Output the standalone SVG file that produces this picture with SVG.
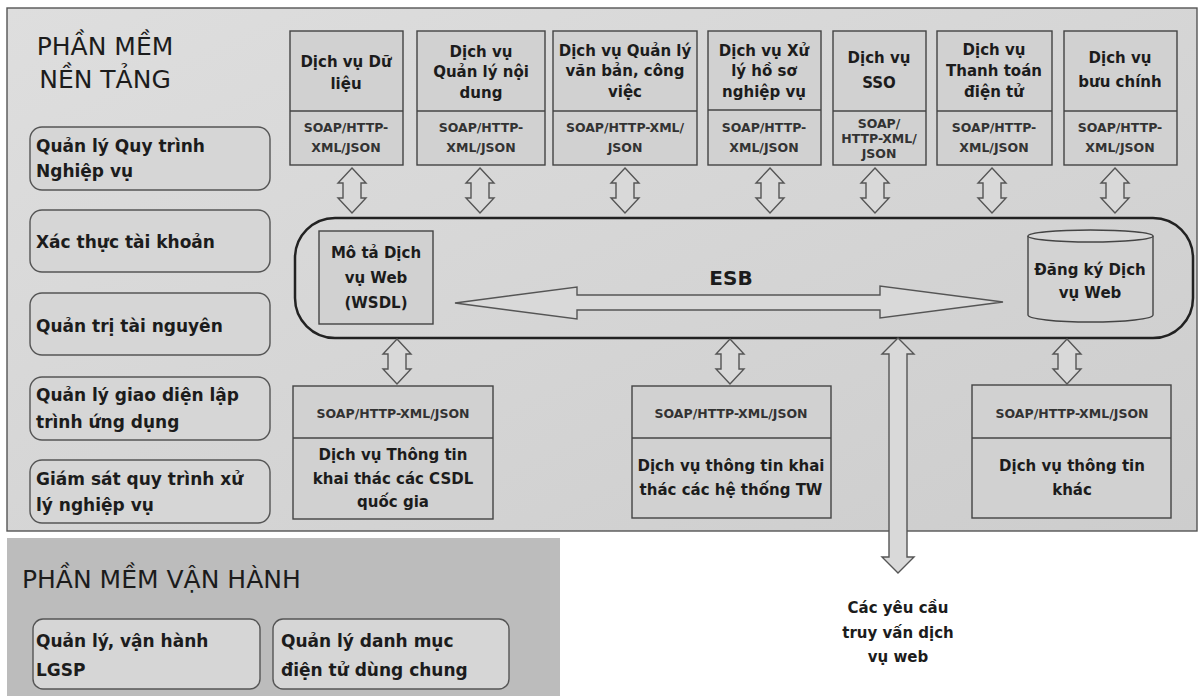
<svg xmlns="http://www.w3.org/2000/svg" width="1204" height="696" viewBox="0 0 1204 696">
<defs>
<linearGradient id="panelGrad" x1="0" y1="0" x2="1" y2="1">
<stop offset="0" stop-color="#dedede"/>
<stop offset="1" stop-color="#cdcdcd"/>
</linearGradient>
<style>
.t{font-family:"DejaVu Sans","Liberation Sans",sans-serif;fill:#1c1c1c}
.title{font-size:25px;font-weight:normal}
.lbl{font-size:17px;font-weight:bold}
.svc{font-size:15px;font-weight:bold;text-anchor:middle}
.proto{font-size:12.5px;font-weight:bold;text-anchor:middle;fill:#333}
.body{font-size:15px;font-weight:bold;text-anchor:middle}
.rbox{fill:#d6d6d6;stroke:#555;stroke-width:1.4}
.box{fill:#d1d1d1;stroke:#444;stroke-width:1.4}
.div{stroke:#444;stroke-width:1.4}
.arrow{fill:#d9d9d9;stroke:#555;stroke-width:1.4;stroke-linejoin:miter}
</style>
</defs>
<rect width="1204" height="696" fill="#ffffff"/>

<g id="panel-nen-tang">
<rect x="7" y="8" width="1190" height="523" fill="url(#panelGrad)" stroke="#555" stroke-width="1.4"/>
<text class="t title" x="105" y="55" text-anchor="middle">PHẦN MỀM</text>
<text class="t title" x="105" y="88" text-anchor="middle">NỀN TẢNG</text>
</g>

<g id="panel-van-hanh">
<rect x="7" y="538" width="553" height="158" fill="#bcbcbc"/>
<text class="t title" x="22" y="588">PHẦN MỀM VẬN HÀNH</text>
</g>

<g id="left-qlqt">
<rect class="rbox" x="30" y="127" width="240" height="63" rx="12"/>
<text class="t lbl" x="36" y="152">Quản lý Quy trình</text>
<text class="t lbl" x="36" y="177">Nghiệp vụ</text>
</g>
<g id="left-xttk">
<rect class="rbox" x="30" y="210" width="240" height="62" rx="12"/>
<text class="t lbl" x="36" y="248">Xác thực tài khoản</text>
</g>
<g id="left-qttn">
<rect class="rbox" x="30" y="293" width="240" height="62" rx="12"/>
<text class="t lbl" x="36" y="332">Quản trị tài nguyên</text>
</g>
<g id="left-qlgd">
<rect class="rbox" x="30" y="377" width="240" height="63" rx="12"/>
<text class="t lbl" x="36" y="401">Quản lý giao diện lập</text>
<text class="t lbl" x="36" y="428">trình ứng dụng</text>
</g>
<g id="left-gsqt">
<rect class="rbox" x="30" y="460" width="240" height="63" rx="12"/>
<text class="t lbl" x="36" y="485">Giám sát quy trình xử</text>
<text class="t lbl" x="36" y="511">lý nghiệp vụ</text>
</g>

<g id="svc-du-lieu">
<rect class="box" x="290" y="31" width="113" height="134"/>
<line class="div" x1="290" y1="111" x2="403" y2="111"/>
<text class="t svc" x="346" y="67">Dịch vụ Dữ</text>
<text class="t svc" x="346" y="89">liệu</text>
<text class="t proto" x="346" y="132">SOAP/HTTP-</text>
<text class="t proto" x="346" y="152">XML/JSON</text>
</g>
<g id="svc-noi-dung">
<rect class="box" x="417" y="31" width="128" height="134"/>
<line class="div" x1="417" y1="111" x2="545" y2="111"/>
<text class="t svc" x="481" y="57">Dịch vụ</text>
<text class="t svc" x="481" y="77">Quản lý nội</text>
<text class="t svc" x="481" y="98">dung</text>
<text class="t proto" x="481" y="132">SOAP/HTTP-</text>
<text class="t proto" x="481" y="152">XML/JSON</text>
</g>
<g id="svc-van-ban">
<rect class="box" x="553" y="31" width="144" height="134"/>
<line class="div" x1="553" y1="111" x2="697" y2="111"/>
<text class="t svc" x="625" y="56">Dịch vụ Quản lý</text>
<text class="t svc" x="625" y="76">văn bản, công</text>
<text class="t svc" x="625" y="97">việc</text>
<text class="t proto" x="625" y="132">SOAP/HTTP-XML/</text>
<text class="t proto" x="625" y="152">JSON</text>
</g>
<g id="svc-ho-so">
<rect class="box" x="708" y="31" width="113" height="134"/>
<line class="div" x1="708" y1="110" x2="821" y2="110"/>
<text class="t svc" x="764" y="56">Dịch vụ Xử</text>
<text class="t svc" x="764" y="76">lý hồ sơ</text>
<text class="t svc" x="764" y="97">nghiệp vụ</text>
<text class="t proto" x="764" y="132">SOAP/HTTP-</text>
<text class="t proto" x="764" y="152">XML/JSON</text>
</g>
<g id="svc-sso">
<rect class="box" x="833" y="31" width="93" height="134"/>
<line class="div" x1="833" y1="111" x2="926" y2="111"/>
<text class="t svc" x="879" y="63">Dịch vụ</text>
<text class="t svc" x="879" y="88">SSO</text>
<text class="t proto" x="879" y="128">SOAP/</text>
<text class="t proto" x="879" y="143">HTTP-XML/</text>
<text class="t proto" x="879" y="158">JSON</text>
</g>
<g id="svc-thanh-toan">
<rect class="box" x="937" y="31" width="115" height="134"/>
<line class="div" x1="937" y1="111" x2="1052" y2="111"/>
<text class="t svc" x="994" y="55">Dịch vụ</text>
<text class="t svc" x="994" y="76">Thanh toán</text>
<text class="t svc" x="994" y="97">điện tử</text>
<text class="t proto" x="994" y="132">SOAP/HTTP-</text>
<text class="t proto" x="994" y="152">XML/JSON</text>
</g>
<g id="svc-buu-chinh">
<rect class="box" x="1064" y="31" width="113" height="134"/>
<line class="div" x1="1064" y1="111" x2="1177" y2="111"/>
<text class="t svc" x="1120" y="63">Dịch vụ</text>
<text class="t svc" x="1120" y="87">bưu chính</text>
<text class="t proto" x="1120" y="132">SOAP/HTTP-</text>
<text class="t proto" x="1120" y="152">XML/JSON</text>
</g>

<g id="esb">
<rect x="295" y="218" width="898" height="120" rx="40" fill="none" stroke="#222" stroke-width="2.5"/>
<text class="t" x="731" y="285" font-size="20" font-weight="bold" text-anchor="middle">ESB</text>
</g>
<g id="wsdl">
<rect class="box" x="319" y="231" width="114" height="93" fill="#d6d6d6"/>
<text class="t svc" x="376" y="258">Mô tả Dịch</text>
<text class="t svc" x="376" y="283">vụ Web</text>
<text class="t svc" x="376" y="308">(WSDL)</text>
</g>
<g id="dang-ky">
<path d="M1028,236 L1028,315 A62.5,7 0 0 0 1153,315 L1153,236" fill="#d3d3d3" stroke="#444" stroke-width="1.4"/>
<ellipse cx="1090.5" cy="236" rx="62.5" ry="6" fill="#d8d8d8" stroke="#444" stroke-width="1.4"/>
<text class="t svc" x="1090" y="275">Đăng ký Dịch</text>
<text class="t svc" x="1090" y="298">vụ Web</text>
</g>

<g id="out-csdl">
<rect class="box" x="293" y="386" width="200" height="133"/>
<line class="div" x1="293" y1="438" x2="493" y2="438"/>
<text class="t proto" x="393" y="418">SOAP/HTTP-XML/JSON</text>
<text class="t body" x="393" y="460">Dịch vụ Thông tin</text>
<text class="t body" x="393" y="484">khai thác các CSDL</text>
<text class="t body" x="393" y="507">quốc gia</text>
</g>
<g id="out-tw">
<rect class="box" x="632" y="386" width="199" height="132"/>
<line class="div" x1="632" y1="438" x2="831" y2="438"/>
<text class="t proto" x="731" y="418">SOAP/HTTP-XML/JSON</text>
<text class="t body" x="731" y="471">Dịch vụ thông tin khai</text>
<text class="t body" x="731" y="495">thác các hệ thống TW</text>
</g>
<g id="out-khac">
<rect class="box" x="972" y="385" width="199" height="133"/>
<line class="div" x1="972" y1="438" x2="1171" y2="438"/>
<text class="t proto" x="1072" y="418">SOAP/HTTP-XML/JSON</text>
<text class="t body" x="1072" y="471">Dịch vụ thông tin</text>
<text class="t body" x="1072" y="495">khác</text>
</g>

<g id="vh-lgsp">
<rect class="rbox" x="33" y="619" width="227" height="70" rx="10" fill="#c4c4c4"/>
<text class="t lbl" x="36" y="647">Quản lý, vận hành</text>
<text class="t lbl" x="36" y="676">LGSP</text>
</g>
<g id="vh-danh-muc">
<rect class="rbox" x="273" y="619" width="236" height="70" rx="10" fill="#c4c4c4"/>
<text class="t lbl" x="281" y="647">Quản lý danh mục</text>
<text class="t lbl" x="281" y="676">điện tử dùng chung</text>
</g>

<g id="request-label">
<text class="t body" x="898" y="613" fill="#2a2a2a">Các yêu cầu</text>
<text class="t body" x="898" y="638" fill="#2a2a2a">truy vấn dịch</text>
<text class="t body" x="898" y="662" fill="#2a2a2a">vụ web</text>
</g>

<g id="connectors">
<path class="arrow" d="M352,168 L366,183 L361,183 L361,198 L366,198 L352,213 L338,198 L343,198 L343,183 L338,183 Z"/>
<path class="arrow" d="M480,168 L494,183 L489,183 L489,198 L494,198 L480,213 L466,198 L471,198 L471,183 L466,183 Z"/>
<path class="arrow" d="M625,168 L639,183 L634,183 L634,198 L639,198 L625,213 L611,198 L616,198 L616,183 L611,183 Z"/>
<path class="arrow" d="M770,168 L784,183 L779,183 L779,198 L784,198 L770,213 L756,198 L761,198 L761,183 L756,183 Z"/>
<path class="arrow" d="M875,168 L889,183 L884,183 L884,198 L889,198 L875,213 L861,198 L866,198 L866,183 L861,183 Z"/>
<path class="arrow" d="M992,168 L1006,183 L1001,183 L1001,198 L1006,198 L992,213 L978,198 L983,198 L983,183 L978,183 Z"/>
<path class="arrow" d="M1115,168 L1129,183 L1124,183 L1124,198 L1129,198 L1115,213 L1101,198 L1106,198 L1106,183 L1101,183 Z"/>
<path class="arrow" d="M397,339 L411,354 L406,354 L406,369 L411,369 L397,384 L383,369 L388,369 L388,354 L383,354 Z"/>
<path class="arrow" d="M730,339 L744,354 L739,354 L739,369 L744,369 L730,384 L716,369 L721,369 L721,354 L716,354 Z"/>
<path class="arrow" d="M1067,339 L1081,354 L1076,354 L1076,369 L1081,369 L1067,384 L1053,369 L1058,369 L1058,354 L1053,354 Z"/>
<path class="arrow" d="M898,338 L914,354 L907,354 L907,557 L914,557 L898,573 L882,557 L889,557 L889,354 L882,354 Z"/>
<path class="arrow" d="M455,303 L577,287 L577,295 L880,295 L880,286 L1003,302 L880,318 L880,310 L577,310 L577,319 Z"/>
</g>
</svg>
